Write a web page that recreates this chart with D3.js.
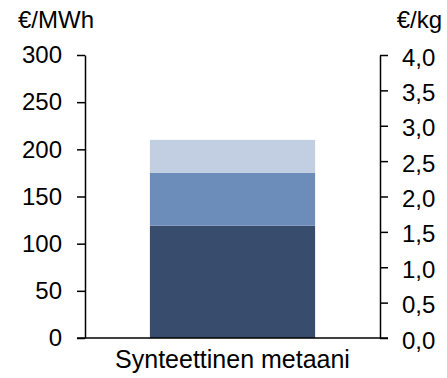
<!DOCTYPE html>
<html><head><meta charset="utf-8">
<script src="https://cdn.jsdelivr.net/npm/d3@7"></script>
<style>body{margin:0;background:#fff}text{font-family:"Liberation Sans",Arial,sans-serif;fill:#000}</style>
</head><body><svg id="c" width="447" height="378"></svg>
<script>
const categories = ["Synteettinen metaani"];
const seriesNames = ["s1","s2","s3"];
const seriesValues = [[119],[56],[35]];
const colors = ["#384d6d","#6c8cb9","#c2cee1"];
const leftTicks = [0,50,100,150,200,250,300];
const rightTicks = [0,0.5,1,1.5,2,2.5,3,3.5,4];
const leftUnit = "€/MWh", rightUnit = "€/kg";

const svg = d3.select("#c");
const L=85, R=380, T=55, B=338, fs=24;
const x = d3.scaleBand().domain(categories).range([L,R]).paddingInner(0.44).paddingOuter(0.22);
const y = d3.scaleLinear().domain([0,300]).range([B,T]);
const y2 = d3.scaleLinear().domain([0,4]).range([B,T]);

const stackData = categories.map((c,i)=>{const o={cat:c}; seriesNames.forEach((s,j)=>o[s]=seriesValues[j][i]); return o;});
const stacked = d3.stack().keys(seriesNames)(stackData);
svg.append("g").selectAll("g").data(stacked).join("g").attr("fill",(d,i)=>colors[i])
  .selectAll("rect").data(d=>d).join("rect")
  .attr("x",d=>x(d.data.cat)).attr("width",x.bandwidth())
  .attr("y",d=>y(d[1])).attr("height",d=>y(d[0])-y(d[1]));

const ax = svg.append("g").attr("transform",`translate(${L},0)`)
  .call(d3.axisLeft(y).tickValues(leftTicks).tickSize(8).tickSizeOuter(0).tickPadding(15));
const ax2 = svg.append("g").attr("transform",`translate(${R},0)`)
  .call(d3.axisRight(y2).tickValues(rightTicks).tickSize(8).tickSizeOuter(0).tickPadding(14)
  .tickFormat(d=>d3.format(".1f")(d).replace(".",",")));
[ax,ax2].forEach(a=>{a.selectAll("path,line").attr("stroke","#000").attr("stroke-width",1.5);
  a.selectAll("text").style("font-size",fs+"px").style("font-family",'"Liberation Sans",Arial,sans-serif');});
ax2.selectAll("text").attr("dy","0.42em");
svg.append("line").attr("x1",L-8).attr("x2",R+8).attr("y1",B).attr("y2",B).attr("stroke","#000").attr("stroke-width",1.5);

svg.append("text").attr("x",18).attr("y",28).style("font-size",fs+"px").text(leftUnit);
svg.append("text").attr("x",442).attr("y",28).attr("text-anchor","end").style("font-size",fs+"px").text(rightUnit);
svg.append("text").attr("x",x(categories[0])+x.bandwidth()/2).attr("y",368).attr("text-anchor","middle").style("font-size","25px").text(categories[0]);
</script></body></html>
